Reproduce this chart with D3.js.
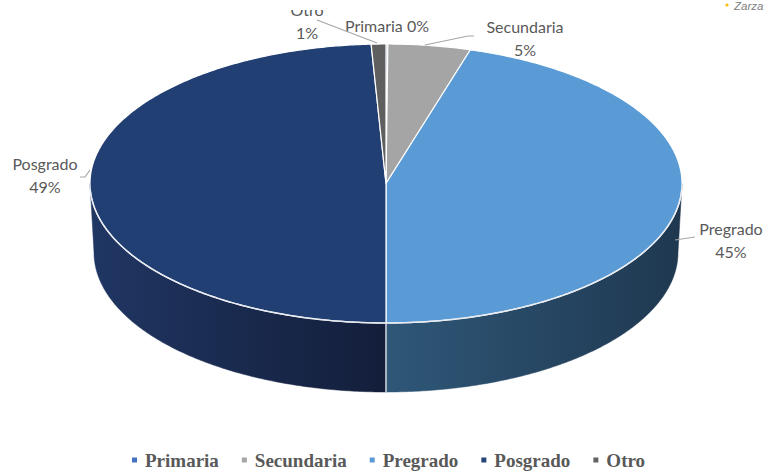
<!DOCTYPE html>
<html>
<head>
<meta charset="utf-8">
<script src="https://cdn.jsdelivr.net/npm/d3@7/dist/d3.min.js"></script>
<style>
  html, body { margin: 0; padding: 0; background: #ffffff; }
  svg { display: block; }
</style>
</head>
<body>
<svg id="chart" width="769" height="471"></svg>
<script>
// ---- data ----
const categories = ["Primaria", "Secundaria", "Pregrado", "Posgrado", "Otro"];
const values = [0.1, 4.5, 45.4, 49.2, 0.8];
const percentLabels = ["0%", "5%", "45%", "49%", "1%"];
const topColors = ["#4472c4", "#a5a5a5", "#5b9bd5", "#213f73", "#5f5f5f"];
const legendColors = ["#4472c4", "#a5a5a5", "#5b9bd5", "#264478", "#636363"];

const W = 769, H = 471;
const svg = d3.select("#chart");

// geometry
const cx = 386, cy = 183.5, rx = 296, ry = 139.5;
const depth = 69, rxB = 292, ryB = 139.5;

const pie = d3.pie().sort(null).value(d => d).startAngle(0).endAngle(2 * Math.PI);
const arcs = pie(values);

function topPt(a) { return [cx + rx * Math.sin(a), cy - ry * Math.cos(a)]; }
function botPt(a) { return [cx + rxB * Math.sin(a), cy + depth - ryB * Math.cos(a)]; }
function sample(a0, a1, f) {
  const n = Math.max(2, Math.ceil(Math.abs(a1 - a0) / 0.01));
  return d3.range(n + 1).map(i => f(a0 + (a1 - a0) * i / n));
}
const line = d3.line().curve(d3.curveLinear);

const defs = svg.append("defs");
function grad(id, c0, c1, x0, x1) {
  const g = defs.append("linearGradient").attr("id", id)
    .attr("gradientUnits", "userSpaceOnUse").attr("x1", x0).attr("x2", x1).attr("y1", 0).attr("y2", 0);
  g.append("stop").attr("offset", 0).attr("stop-color", c0);
  g.append("stop").attr("offset", 1).attr("stop-color", c1);
}
grad("sidePre", "#2f5778", "#1f3850", cx, cx + rx);
grad("sidePos", "#203663", "#131e3a", cx - rx, cx);
const sideFill = ["#2b4a8a", "#6b6b6b", "url(#sidePre)", "url(#sidePos)", "#3a3a3a"];

// sides (front half only)
const gSide = svg.append("g");
arcs.forEach((d, i) => {
  const a0 = Math.max(d.startAngle, Math.PI / 2), a1 = Math.min(d.endAngle, 3 * Math.PI / 2);
  if (a1 <= a0) return;
  const pts = sample(a0, a1, topPt).concat(sample(a1, a0, botPt));
  gSide.append("path").attr("d", line(pts) + "Z")
    .attr("fill", sideFill[i]).attr("stroke", sideFill[i]).attr("stroke-width", 0.5);
});
arcs.forEach(d => {
  const a = d.startAngle;
  if (a > Math.PI / 2 && a < 3 * Math.PI / 2) {
    const p = topPt(a), q = botPt(a);
    gSide.append("line").attr("x1", p[0]).attr("y1", p[1]).attr("x2", q[0]).attr("y2", q[1])
      .attr("stroke", "#d9dde4").attr("stroke-width", 1.5);
  }
});

// top face
const gTop = svg.append("g");
arcs.forEach((d, i) => {
  const pts = [[cx, cy]].concat(sample(d.startAngle, d.endAngle, topPt));
  gTop.append("path").attr("d", line(pts) + "Z")
    .attr("fill", topColors[i]).attr("stroke", "#ffffff").attr("stroke-width", 1.2)
    .attr("stroke-linejoin", "round");
});
gTop.append("path").attr("d", line(sample(Math.PI / 2 + 0.05, 3 * Math.PI / 2 - 0.05, topPt)))
  .attr("fill", "none").attr("stroke", "#e8ecf2").attr("stroke-width", 1.5);

// labels
const labelFont = "Lato, 'Open Sans', sans-serif";
const labelColor = "#595959";
const labels = [
  { i: 0, x: 387, y: 32, one: true },
  { i: 1, x: 525, y: 33 },
  { i: 2, x: 731, y: 235 },
  { i: 3, x: 45, y: 170 },
  { i: 4, x: 307, y: 16 }
];
defs.append("clipPath").attr("id", "otroClip").append("rect")
  .attr("x", 0).attr("y", 10).attr("width", W).attr("height", H);
const gLab = svg.append("g");
labels.forEach(L => {
  const t = gLab.append("text").attr("text-anchor", "middle")
    .attr("font-family", labelFont).attr("font-size", 16).attr("fill", labelColor);
  const lines = L.one ? [categories[L.i] + " " + percentLabels[L.i]] : [categories[L.i], percentLabels[L.i]];
  lines.forEach((s, k) => {
    const ts = t.append("tspan").attr("x", L.x).attr("y", L.y + k * 23).text(s);
  });
  if (categories[L.i] === "Otro") t.select("tspan").attr("clip-path", null);
  if (categories[L.i] === "Otro") {
    t.remove();
    const g = gLab.append("g");
    g.append("text").attr("text-anchor", "middle").attr("font-family", labelFont).attr("font-size", 16)
      .attr("fill", labelColor).attr("clip-path", "url(#otroClip)")
      .attr("x", L.x).attr("y", L.y).text(categories[L.i]);
    g.append("text").attr("text-anchor", "middle").attr("font-family", labelFont).attr("font-size", 16)
      .attr("fill", labelColor).attr("x", L.x).attr("y", L.y + 23).text(percentLabels[L.i]);
  }
});

// leader lines
const leaderColor = "#a6a6a6";
const leaders = [
  [[317, 20], [377, 43]],
  [[474, 36], [468, 36], [425, 45]],
  [[80, 177], [85, 177], [90, 170]],
  [[695, 237], [675, 240]]
];
leaders.forEach(pts => {
  svg.append("path").attr("d", line(pts)).attr("fill", "none")
    .attr("stroke", leaderColor).attr("stroke-width", 1.2);
});

// legend
const gLeg = svg.append("g");
let lx = 132;
categories.forEach((c, i) => {
  gLeg.append("rect").attr("x", lx).attr("y", 457.5).attr("width", 5).attr("height", 5)
    .attr("fill", legendColors[i]);
  const t = gLeg.append("text").attr("x", lx + 13).attr("y", 467)
    .attr("font-family", "'Liberation Serif', 'Times New Roman', serif")
    .attr("font-weight", "bold").attr("font-size", 19).attr("fill", "#595959").text(c);
  lx += 13 + t.node().getComputedTextLength() + 23;
});

// stray top-right fragment
svg.append("circle").attr("cx", 727).attr("cy", 5).attr("r", 1.6).attr("fill", "#ffc000");
svg.append("text").attr("x", 734).attr("y", 10).attr("font-family", "'Liberation Sans', sans-serif")
  .attr("font-style", "italic").attr("font-size", 11.5).attr("fill", "#808080").text("Zarza");
</script>
</body>
</html>
